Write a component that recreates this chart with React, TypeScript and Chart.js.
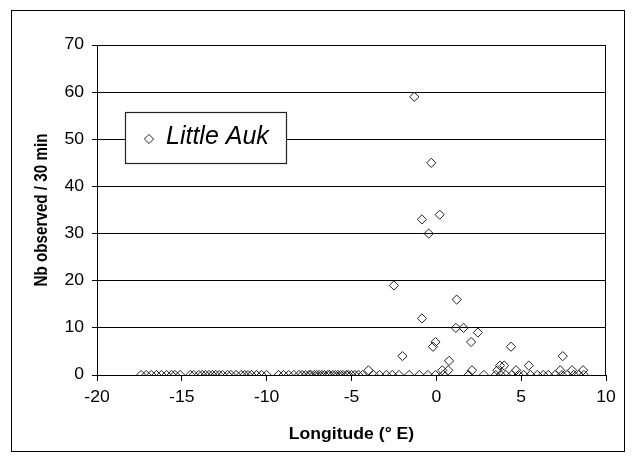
import React, { useEffect, useRef } from "react";
import { Chart, registerables } from "chart.js";

Chart.register(...registerables);

// Axis ticks and labels
const xTicks = [-20, -15, -10, -5, 0, 5, 10];
const yTicks = [0, 10, 20, 30, 40, 50, 60, 70];
const seriesName = "Little Auk";
const xTitle = "Longitude (° E)";
const yTitle = "Nb observed / 30 min";

// Half-hour counts where no bird was seen (longitude, °E)
const zeroLon = [
  -17.4, -17.1, -16.8, -16.5, -16.2, -15.9, -15.6, -15.4, -15.1, -14.5, -14.3, -14.0,
  -13.8, -13.6, -13.4, -13.2, -13.0, -12.8, -12.6, -12.3, -12.1, -11.8, -11.5, -11.3,
  -11.1, -10.9, -10.6, -10.3, -10.0,
  -9.3, -9.0, -8.7, -8.4, -8.1, -7.9, -7.7, -7.5, -7.4, -7.2, -7.05, -6.9, -6.75, -6.6,
  -6.4, -6.3, -6.1, -5.95, -5.8, -5.65, -5.5, -5.3, -5.2, -5.0, -4.8, -4.6, -4.35,
  -3.7, -3.35, -2.95, -2.6, -2.2, -1.6, -1.0, -0.5, -0.05, 0.4, 1.9, 2.8, 3.5, 3.8, 4.1,
  4.45, 4.85, 5.15, 5.55, 5.95, 6.3, 6.6, 7.0, 7.4, 7.7, 8.1, 8.4, 8.7,
];

// Half-hour counts with birds: longitude and number observed
const seenLon = [
  -4.0, -2.5, -2.0, -1.3, -0.85, -0.85, -0.45, -0.3, -0.2, -0.05, 0.2, 0.35, 0.7, 0.75,
  1.15, 1.2, 1.6, 2.05, 2.1, 2.45, 3.6, 3.75, 4.0, 4.4, 4.7, 5.45, 7.3, 7.45, 8.0, 8.65,
];
const seenNb = [
  1, 19, 4, 59, 33, 12, 30, 45, 6, 7, 34, 1, 1, 3,
  10, 16, 10, 7, 1, 9, 1, 2, 2, 6, 1, 2, 1, 4, 1, 1,
];

const FONT = '"Liberation Sans", Arial, sans-serif';
const STRETCH = 1.1; // wide axis lettering
const MARK_R = 4.6;
const MARK_COLOR = "#222";

function drawDiamond(ctx: CanvasRenderingContext2D, x: number, y: number, r: number) {
  ctx.beginPath();
  ctx.moveTo(x - r, y);
  ctx.lineTo(x, y - r);
  ctx.lineTo(x + r, y);
  ctx.lineTo(x, y + r);
  ctx.closePath();
  ctx.stroke();
}

function wideText(
  ctx: CanvasRenderingContext2D,
  text: string,
  x: number,
  y: number,
  align: CanvasTextAlign,
  font: string
) {
  ctx.save();
  ctx.translate(x, y);
  ctx.scale(STRETCH, 1);
  ctx.font = font;
  ctx.textAlign = align;
  ctx.textBaseline = "middle";
  ctx.fillText(text, 0, 0);
  ctx.restore();
}

const decorations = {
  id: "decorations",
  beforeDraw(chart: any) {
    const { ctx, width, height } = chart;
    ctx.save();
    ctx.fillStyle = "#fff";
    ctx.fillRect(0, 0, width, height);
    ctx.restore();
  },
  afterDraw(chart: any) {
    const { ctx, chartArea: a, scales } = chart;
    const xs = scales.x;
    const ys = scales.y;
    ctx.save();

    // outer frame
    ctx.strokeStyle = "#000";
    ctx.lineWidth = 1;
    ctx.strokeRect(11.5, 10.5, 613, 441);

    // plot box right edge
    const rx = Math.round(xs.getPixelForValue(10)) - 0.5;
    ctx.beginPath();
    ctx.moveTo(rx, Math.round(a.top));
    ctx.lineTo(rx, Math.round(a.bottom));
    ctx.stroke();

    // tick labels
    ctx.fillStyle = "#000";
    const tickFont = `16px ${FONT}`;
    yTicks.forEach((v) => {
      wideText(ctx, String(v), 84, ys.getPixelForValue(v), "right", tickFont);
    });
    xTicks.forEach((v) => {
      wideText(ctx, String(v), xs.getPixelForValue(v), a.bottom + 23, "center", tickFont);
    });

    // axis titles
    const titleFont = `bold 16px ${FONT}`;
    wideText(ctx, xTitle, (a.left + a.right) / 2, 435, "center", titleFont);
    ctx.save();
    ctx.translate(42, (a.top + a.bottom) / 2);
    ctx.rotate(-Math.PI / 2);
    ctx.scale(0.95, STRETCH);
    ctx.font = titleFont;
    ctx.textAlign = "center";
    ctx.textBaseline = "middle";
    ctx.fillText(yTitle, 0, 0);
    ctx.restore();

    // legend box
    const lx = 125, ly = 112, lw = 161, lh = 51;
    ctx.fillStyle = "#fff";
    ctx.fillRect(lx, ly, lw, lh);
    ctx.strokeStyle = "#222";
    ctx.lineWidth = 1.2;
    ctx.strokeRect(lx + 0.5, ly + 0.5, lw, lh);
    ctx.strokeStyle = MARK_COLOR;
    ctx.lineWidth = 1;
    drawDiamond(ctx, 149, 139, MARK_R);
    ctx.fillStyle = "#000";
    ctx.font = `italic 25px ${FONT}`;
    ctx.textAlign = "left";
    ctx.textBaseline = "alphabetic";
    ctx.fillText(seriesName, 166, 144);

    ctx.restore();
  },
};

export default function App() {
  const canvasRef = useRef<HTMLCanvasElement | null>(null);

  useEffect(() => {
    const canvas = canvasRef.current;
    if (!canvas) return;

    const points = [
      ...zeroLon.map((x) => ({ x, y: 0 })),
      ...seenLon.map((x, i) => ({ x, y: seenNb[i] })),
    ];

    const hidden = "rgba(0,0,0,0)";
    const chart = new Chart(canvas, {
      type: "scatter",
      data: {
        datasets: [
          {
            label: seriesName,
            data: points,
            pointStyle: "rectRot",
            pointRadius: MARK_R,
            pointBorderWidth: 1,
            pointBorderColor: MARK_COLOR,
            pointBackgroundColor: hidden,
          },
        ],
      },
      options: {
        animation: false,
        responsive: false,
        devicePixelRatio: 1,
        layout: { padding: { top: 45, right: 30, bottom: 0, left: 0 } },
        plugins: {
          legend: { display: false },
          tooltip: { enabled: false },
          title: { display: false },
        },
        scales: {
          x: {
            type: "linear",
            position: "bottom",
            min: -20,
            max: 10,
            afterBuildTicks: (s: any) => {
              s.ticks = xTicks.map((value) => ({ value }));
            },
            ticks: { color: hidden, font: { size: 15 } },
            grid: { drawOnChartArea: false, drawTicks: true, tickLength: 6, color: "#000" },
            border: { display: true, color: "#000", width: 1 },
            afterFit: (s: any) => {
              s.height = 87;
            },
          },
          y: {
            type: "linear",
            position: "left",
            min: 0,
            max: 70,
            afterBuildTicks: (s: any) => {
              s.ticks = yTicks.map((value) => ({ value }));
            },
            ticks: { color: hidden, font: { size: 15 } },
            grid: { drawOnChartArea: true, drawTicks: true, tickLength: 5, color: "#000", lineWidth: 1 },
            border: { display: true, color: "#000", width: 1 },
            afterFit: (s: any) => {
              s.width = 97;
            },
          },
        },
      },
      plugins: [decorations],
    });

    return () => chart.destroy();
  }, []);

  return (
    <div style={{ position: "fixed", left: 0, top: 0, width: 636, height: 462, background: "#fff" }}>
      <canvas ref={canvasRef} width={636} height={462} style={{ display: "block" }} />
    </div>
  );
}
